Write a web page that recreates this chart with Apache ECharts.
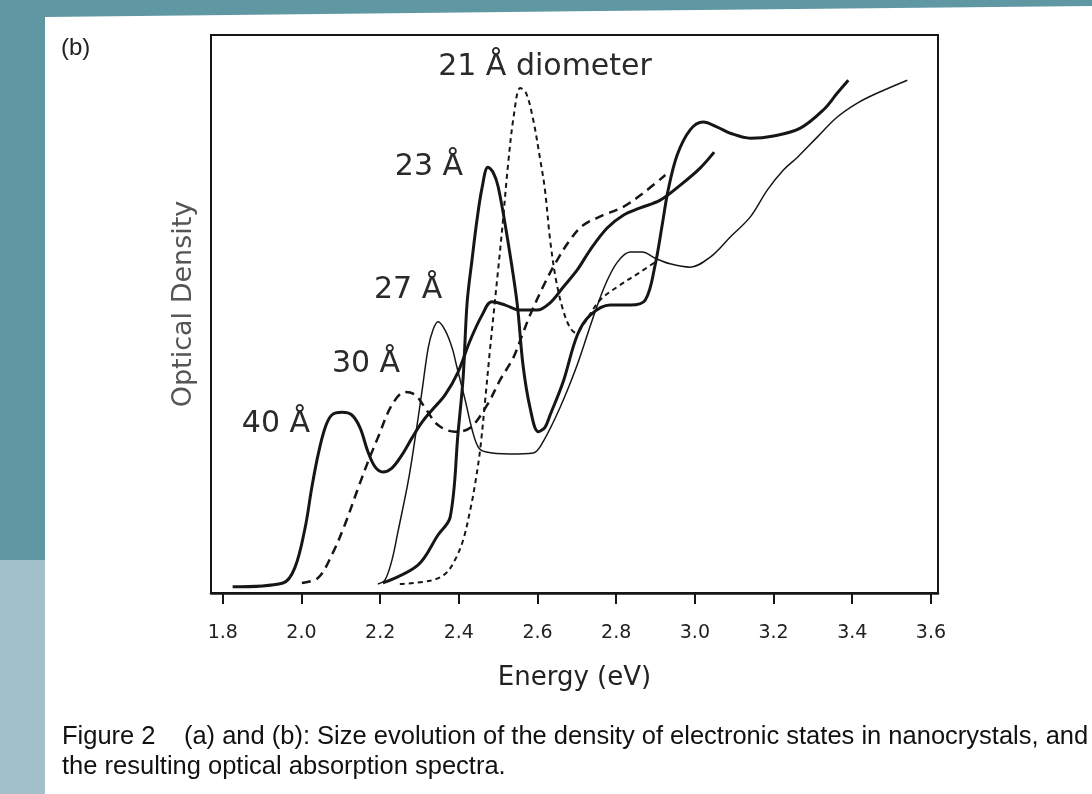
<!DOCTYPE html>
<html lang="en">
<head>
    <meta charset="UTF-8">
    <title>Optical absorption spectra</title>
    <script src="https://cdn.jsdelivr.net/npm/echarts@6/dist/echarts.min.js"></script>
    <style>
        html, body { margin: 0; padding: 0; background: #fff; }
        #main { width: 1092px; height: 794px; }
    </style>
</head>
<body>
<div id="main"></div>
<script type="text/javascript">
    // energy (eV) and optical density (arbitrary 0-100) for each diameter
    var e40 = [1.825,1.953,1.983,2.009,2.026,2.042,2.060,2.077,2.103,2.128,2.149,2.169,2.187,2.207,2.230,2.255,2.281,2.306,2.332,2.365,2.398,2.429,2.459,2.484,2.518,2.556,2.599,2.632,2.665,2.701,2.734,2.777,2.818,2.861,2.912,2.963,3.014,3.049];
    var od40 = [1.1,1.8,4.5,11.6,18.8,24.7,29.6,31.9,32.4,31.9,29.6,25.3,22.6,21.7,22.4,24.7,27.8,30.6,32.8,35.5,39.6,45.3,49.8,52.2,51.6,50.7,50.7,52.0,54.8,57.9,61.5,65.4,67.7,69.0,70.4,73.1,76.2,79.0];

    var e30 = [2.001,2.042,2.077,2.110,2.144,2.169,2.194,2.230,2.263,2.289,2.314,2.347,2.390,2.429,2.472,2.505,2.538,2.561,2.581,2.619,2.647,2.683,2.716,2.767,2.818,2.869,2.925];
    var od30 = [1.8,2.7,6.8,12.2,18.8,23.5,27.8,33.7,36.0,35.5,33.2,30.1,28.9,29.6,33.7,38.2,42.1,46.2,49.8,55.6,59.3,63.3,65.9,67.7,69.2,71.7,74.9];

    var e27 = [2.194,2.212,2.230,2.245,2.271,2.289,2.306,2.322,2.334,2.347,2.365,2.383,2.395,2.416,2.434,2.449,2.467,2.530,2.589,2.614,2.657,2.701,2.739,2.772,2.803,2.836,2.866,2.899,2.937,2.988,3.039,3.090,3.141,3.184,3.225,3.261,3.311,3.362,3.413,3.464,3.540];
    var od27 = [1.6,2.3,5.9,10.9,19.9,27.8,36.0,43.9,47.1,48.6,47.1,43.9,40.5,34.6,29.2,26.2,25.3,24.9,25.1,27.1,33.2,40.9,48.9,55.2,59.3,61.1,61.1,60.0,59.0,58.4,60.2,63.8,67.4,72.2,75.8,78.1,81.7,85.3,87.8,89.6,91.9];

    var e23 = [2.207,2.296,2.347,2.378,2.398,2.411,2.421,2.434,2.446,2.459,2.474,2.487,2.500,2.523,2.548,2.563,2.581,2.602,2.619,2.632,2.665,2.701,2.734,2.785,2.836,2.874,2.899,2.917,2.932,2.955,2.988,3.021,3.057,3.090,3.141,3.200,3.268,3.327,3.362,3.390];
    var od23 = [1.8,5.0,10.4,13.6,28.7,38.7,52.0,60.0,66.8,72.6,76.3,75.4,72.8,63.8,52.0,40.9,33.2,28.9,29.7,31.9,37.8,46.2,49.8,51.6,51.6,52.5,58.8,66.0,72.2,78.5,83.0,84.4,83.5,82.4,81.5,81.9,83.3,86.6,89.6,91.9];

    var e21 = [2.250,2.327,2.365,2.390,2.411,2.429,2.441,2.454,2.467,2.479,2.492,2.510,2.525,2.540,2.556,2.571,2.589,2.607,2.619,2.632,2.647,2.665,2.683,2.698,2.721,2.759,2.810,2.861,2.899];
    var od21 = [1.6,2.2,3.4,5.9,9.5,14.9,19.4,25.6,34.6,43.5,52.5,65.1,76.7,85.7,90.5,89.6,84.8,77.6,72.2,63.3,56.1,50.7,47.5,46.6,48.6,52.5,55.2,57.5,59.3];

    var tickValues = [1.8, 2.0, 2.2, 2.4, 2.6, 2.8, 3.0, 3.2, 3.4, 3.6];

    // curve labels: [energy, density, text]
    var labels = [
        [1.935, 30.3, '40 Å'],
        [2.164, 41.0, '30 Å'],
        [2.271, 54.3, '27 Å'],
        [2.324, 76.3, '23 Å'],
        [2.619, 94.3, '21 Å diometer']
    ];

    function pairs(xs, ys) {
        return xs.map(function (x, i) { return [x, ys[i]]; });
    }

    var ink = '#161616';
    var labelFont = 'DejaVu Sans';

    function curve(name, xs, ys, width, type, label) {
        return {
            name: name,
            type: 'line',
            data: pairs(xs, ys),
            symbol: 'none',
            smooth: 0.35,
            lineStyle: { color: ink, width: width, type: type },
            markPoint: {
                symbol: 'circle',
                symbolSize: 0,
                silent: true,
                label: {
                    show: true,
                    position: 'inside',
                    color: '#2a2a2a',
                    fontFamily: labelFont,
                    fontSize: 30,
                    formatter: function (p) { return p.name; }
                },
                data: [{ name: label[2], coord: [label[0], label[1]] }]
            }
        };
    }

    var myChart = echarts.init(document.getElementById('main'));

    var captionFont = '25.5px "Liberation Sans"';

    var option = {
        backgroundColor: '#ffffff',
        animation: false,
        graphic: [
            // teal frame of the slide
            { type: 'polygon', z: -10, shape: { points: [[0, 0], [1092, 0], [1092, 6], [600, 11], [45, 17], [45, 560], [0, 560]] }, style: { fill: '#5f97a3' } },
            { type: 'rect', z: -10, shape: { x: 0, y: 560, width: 45, height: 234 }, style: { fill: '#a2bfcc' } },
            { type: 'text', left: 61, top: 36, style: { text: '(b)', font: '24px "Liberation Sans"', fill: '#222' } },
            { type: 'text', left: 62, top: 724, style: { text: 'Figure 2    (a) and (b): Size evolution of the density of electronic states in nanocrystals, and', font: captionFont, fill: '#111' } },
            { type: 'text', left: 62, top: 754, style: { text: 'the resulting optical absorption spectra.', font: captionFont, fill: '#111' } }
        ],
        grid: {
            left: 211, right: 154, top: 35, bottom: 201,
            show: true, borderColor: ink, borderWidth: 2, backgroundColor: 'transparent'
        },
        xAxis: {
            type: 'value',
            min: 1.77,
            max: 3.618,
            name: 'Energy (eV)',
            nameLocation: 'middle',
            nameGap: 72,
            nameTextStyle: { fontFamily: labelFont, fontSize: 26, color: '#222' },
            axisLine: { show: true, lineStyle: { color: ink, width: 2.5 } },
            axisTick: { show: true, inside: false, length: 11, customValues: tickValues, lineStyle: { color: ink, width: 2 } },
            axisLabel: {
                customValues: tickValues,
                margin: 31,
                fontFamily: labelFont,
                fontSize: 19,
                color: '#222',
                formatter: function (v) { return v.toFixed(1); }
            },
            splitLine: { show: false }
        },
        yAxis: {
            type: 'value',
            min: 0,
            max: 100,
            name: 'Optical Density',
            nameLocation: 'middle',
            nameGap: 14,
            nameRotate: 90,
            nameTextStyle: { fontFamily: labelFont, fontSize: 27, color: '#555', padding: [0, 0, 0, 20] },
            axisLine: { show: false },
            axisTick: { show: false },
            axisLabel: { show: false },
            splitLine: { show: false }
        },
        series: [
            curve('40 Å', e40, od40, 3, 'solid', labels[0]),
            curve('30 Å', e30, od30, 2.5, [9, 6], labels[1]),
            curve('27 Å', e27, od27, 1.5, 'solid', labels[2]),
            curve('23 Å', e23, od23, 3, 'solid', labels[3]),
            curve('21 Å', e21, od21, 2, [5, 4], labels[4])
        ]
    };

    myChart.setOption(option);
</script>
</body>
</html>
